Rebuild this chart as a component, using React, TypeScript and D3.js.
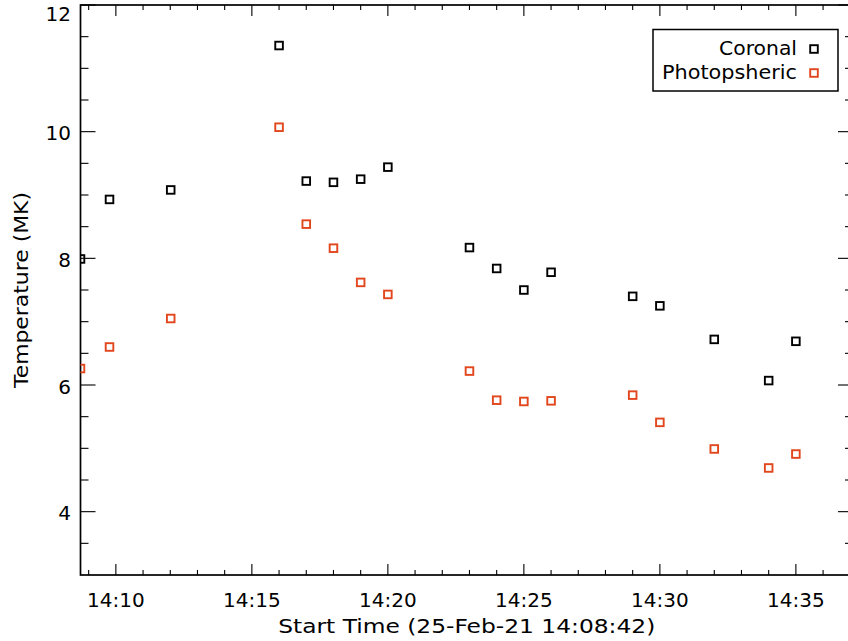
import React from "react";
import * as d3 from "d3";

const times = ["14:08:42", "14:09:46", "14:12:01", "14:16:00", "14:17:00", "14:18:00", "14:19:00", "14:20:00", "14:23:00", "14:24:00", "14:25:00", "14:26:00", "14:29:00", "14:30:00", "14:32:00", "14:34:00", "14:35:00"];
const coronal = [7.99, 8.93, 9.08, 11.36, 9.22, 9.2, 9.25, 9.44, 8.17, 7.84, 7.5, 7.78, 7.4, 7.25, 6.72, 6.07, 6.69];
const photospheric = [6.26, 6.6, 7.05, 10.07, 8.54, 8.16, 7.62, 7.43, 6.22, 5.76, 5.74, 5.75, 5.84, 5.41, 4.99, 4.69, 4.91];
const seriesNames = ["Coronal", "Photopsheric"];
const seriesColors = ["#000000", "#e2461c"];
const yTickLabels = [4, 6, 8, 10, 12];
const xStart = "14:08:42";
const xEnd = "14:37:06";
const yDomain = [3, 12];

const W = 848, H = 641;
const M = { left: 80.5, top: 5, right: 853, bottom: 575 };
const FONT = "'DejaVu Sans', sans-serif";

const parse = (s: string) => new Date(`2021-02-25T${s}Z`);

export default function App() {
  const x = d3.scaleUtc().domain([parse(xStart), parse(xEnd)]).range([M.left, M.right]);
  const y = d3.scaleLinear().domain(yDomain).range([M.bottom, M.top]);
  const fmt = d3.utcFormat("%H:%M");

  const xMinor = x.ticks(d3.utcMinute.every(1) as any);
  const xMajor = xMinor.filter((d) => d.getUTCMinutes() % 5 === 0);
  const yMinor = d3.range(yDomain[0] + 0.5, yDomain[1] + 0.01, 0.5).filter((v) => v % 2 !== 0);

  const series = [coronal, photospheric];
  const sq = 7.6;

  return (
    <div style={{ position: "absolute", left: 0, top: 0 }}>
      <svg width={W} height={H} style={{ display: "block", background: "#fff" }} fontFamily={FONT}>
        <defs>
          <clipPath id="plotclip">
            <rect x={M.left} y={M.top} width={M.right - M.left} height={M.bottom - M.top} />
          </clipPath>
        </defs>
        <rect x={0} y={0} width={W} height={H} fill="#fff" />
        {/* x ticks bottom & top */}
        {xMinor.map((d, i) => {
          const major = d.getUTCMinutes() % 5 === 0;
          const len = major ? 11 : 5;
          const px = x(d);
          return (
            <g key={"xt" + i} stroke="#000" strokeWidth={1.1}>
              <line x1={px} x2={px} y1={M.bottom} y2={M.bottom - len} />
              <line x1={px} x2={px} y1={M.top} y2={M.top + len} />
            </g>
          );
        })}
        {/* y ticks left & right */}
        {yTickLabels.map((v, i) => (
          <g key={"yM" + i} stroke="#000" strokeWidth={1.1}>
            <line x1={M.left} x2={M.left + 15} y1={y(v)} y2={y(v)} />
            <line x1={M.right} x2={M.right - 15} y1={y(v)} y2={y(v)} />
          </g>
        ))}
        {yMinor.map((v, i) => (
          <g key={"ym" + i} stroke="#000" strokeWidth={1.1}>
            <line x1={M.left} x2={M.left + 8} y1={y(v)} y2={y(v)} />
            <line x1={M.right} x2={M.right - 8} y1={y(v)} y2={y(v)} />
          </g>
        ))}
        {/* frame */}
        <rect x={M.left} y={M.top} width={M.right - M.left} height={M.bottom - M.top} fill="none" stroke="#000" strokeWidth={1.7} />
        {/* tick labels */}
        {xMajor.map((d, i) => (
          <text key={"xl" + i} x={x(d)} y={607} textAnchor="middle" fontSize={20} fill="#000">
            {fmt(d)}
          </text>
        ))}
        {yTickLabels.map((v, i) => (
          <text key={"yl" + i} x={71} y={y(v) + 8.7 + (v === yDomain[1] ? 7 : 0)} textAnchor="end" fontSize={20} fill="#000">
            {v}
          </text>
        ))}
        {/* axis titles */}
        <text x={(M.left + M.right) / 2} y={633} textAnchor="middle" fontSize={20} textLength={377} lengthAdjust="spacingAndGlyphs" fill="#000">
          {"Start Time (25-Feb-21 14:08:42)"}
        </text>
        <text transform={`translate(28,${(M.top + M.bottom) / 2}) rotate(-90)`} textAnchor="middle" fontSize={20} textLength={196} lengthAdjust="spacingAndGlyphs" fill="#000">
          Temperature (MK)
        </text>
        {/* data */}
        <g clipPath="url(#plotclip)">
          {series.map((vals, si) =>
            vals.map((v, i) => (
              <rect
                key={`p${si}-${i}`}
                x={x(parse(times[i])) - sq / 2}
                y={y(v) - sq / 2}
                width={sq}
                height={sq}
                fill="none"
                stroke={seriesColors[si]}
                strokeWidth={1.9}
              />
            ))
          )}
        </g>
        {/* legend */}
        <rect x={653} y={29.5} width={185} height={61.5} fill="#fff" stroke="#000" strokeWidth={1.5} />
        {seriesNames.map((n, i) => (
          <g key={"lg" + i}>
            <text x={797} y={55 + i * 24} textAnchor="end" fontSize={20} textLength={i === 0 ? 78 : 135} lengthAdjust="spacingAndGlyphs" fill="#000">
              {n}
            </text>
            <rect x={814 - sq / 2} y={49 + i * 24 - sq / 2} width={sq} height={sq} fill="none" stroke={seriesColors[i]} strokeWidth={1.9} />
          </g>
        ))}
      </svg>
    </div>
  );
}
